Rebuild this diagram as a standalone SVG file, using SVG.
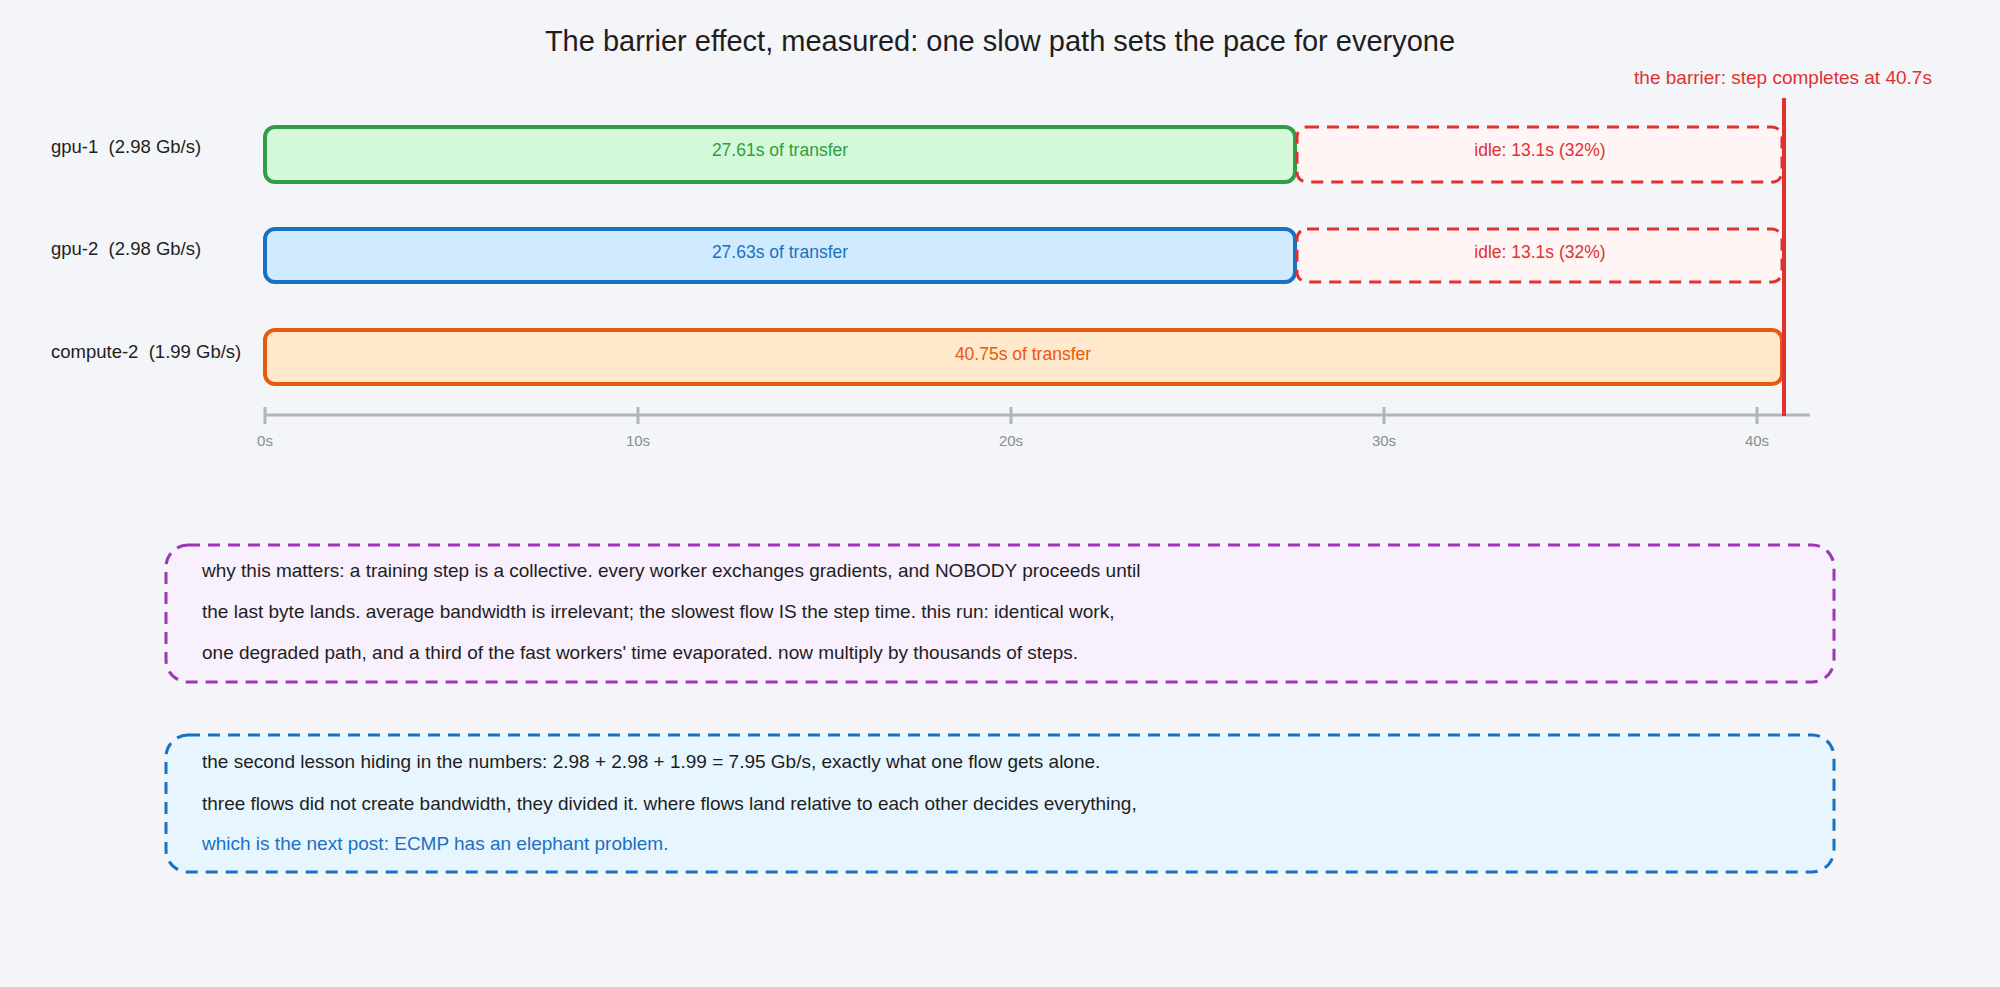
<svg xmlns="http://www.w3.org/2000/svg" width="2000" height="987" viewBox="0 0 2000 987">
<style>
text{font-family:"Liberation Sans",Arial,sans-serif}
.lbl{font-size:18.5px;fill:#1e1e1e}
.bt{font-size:17.5px;text-anchor:middle}
.idle{fill:#fff5f5;stroke:#e03131;stroke-width:3;stroke-dasharray:12 8}
.tick{stroke:#adb5bd;stroke-width:3}
.tl{font-size:15px;fill:#868e96;text-anchor:middle}
.note{font-size:19px}
</style>
<rect width="2000" height="987" fill="#f4f5f8"/>
<text x="1000" y="51" text-anchor="middle" font-size="29" fill="#1e1e1e">The barrier effect, measured: one slow path sets the pace for everyone</text>
<g id="labels">
<text class="lbl" x="51" y="153" xml:space="preserve">gpu-1  (2.98 Gb/s)</text>
<text class="lbl" x="51" y="255" xml:space="preserve">gpu-2  (2.98 Gb/s)</text>
<text class="lbl" x="51" y="358" xml:space="preserve">compute-2  (1.99 Gb/s)</text>
</g>
<g id="gpu1"><rect x="265" y="127" width="1030" height="55" rx="10" fill="#d3f9d8" stroke="#2f9e44" stroke-width="4"/><text class="bt" x="780" y="156" fill="#2f9e44">27.61s of transfer</text></g>
<g id="gpu1-idle"><rect class="idle" x="1297" y="127" width="485" height="55" rx="10"/><text class="bt" x="1540" y="156" fill="#e03131">idle: 13.1s (32%)</text></g>
<g id="gpu2"><rect x="265" y="229" width="1030" height="53" rx="10" fill="#d0ebff" stroke="#1971c2" stroke-width="4"/><text class="bt" x="780" y="258" fill="#1971c2">27.63s of transfer</text></g>
<g id="gpu2-idle"><rect class="idle" x="1297" y="229" width="485" height="53" rx="10"/><text class="bt" x="1540" y="258" fill="#e03131">idle: 13.1s (32%)</text></g>
<g id="compute2"><rect x="265" y="330" width="1517" height="54" rx="10" fill="#ffe8cc" stroke="#e8590c" stroke-width="4"/><text class="bt" x="1023" y="360" fill="#e8590c">40.75s of transfer</text></g>
<g id="axis">
<line class="tick" x1="265" y1="415" x2="1810" y2="415"/>
<line class="tick" x1="265" y1="407" x2="265" y2="424"/>
<line class="tick" x1="638" y1="407" x2="638" y2="424"/>
<line class="tick" x1="1011" y1="407" x2="1011" y2="424"/>
<line class="tick" x1="1384" y1="407" x2="1384" y2="424"/>
<line class="tick" x1="1757" y1="407" x2="1757" y2="424"/>
<text class="tl" x="265" y="446">0s</text><text class="tl" x="638" y="446">10s</text><text class="tl" x="1011" y="446">20s</text><text class="tl" x="1384" y="446">30s</text><text class="tl" x="1757" y="446">40s</text>
</g>
<g id="barrier"><line x1="1784" y1="98" x2="1784" y2="416" stroke="#e03131" stroke-width="4"/><text x="1783" y="84" text-anchor="middle" font-size="19" fill="#e03131">the barrier: step completes at 40.7s</text></g>
<g id="note1"><rect x="166" y="545" width="1668" height="137" rx="22" fill="#f8f0fc" stroke="#9c36b5" stroke-width="3" stroke-dasharray="12 8"/>
<text class="note" x="202" y="577" fill="#1e1e1e">why this matters: a training step is a collective. every worker exchanges gradients, and NOBODY proceeds until</text>
<text class="note" x="202" y="618" fill="#1e1e1e">the last byte lands. average bandwidth is irrelevant; the slowest flow IS the step time. this run: identical work,</text>
<text class="note" x="202" y="659" fill="#1e1e1e">one degraded path, and a third of the fast workers' time evaporated. now multiply by thousands of steps.</text></g>
<g id="note2"><rect x="166" y="735" width="1668" height="137" rx="22" fill="#e7f5ff" stroke="#1971c2" stroke-width="3" stroke-dasharray="12 8"/>
<text class="note" x="202" y="768" fill="#1e1e1e">the second lesson hiding in the numbers: 2.98 + 2.98 + 1.99 = 7.95 Gb/s, exactly what one flow gets alone.</text>
<text class="note" x="202" y="810" fill="#1e1e1e">three flows did not create bandwidth, they divided it. where flows land relative to each other decides everything,</text>
<text class="note" x="202" y="850" fill="#1971c2">which is the next post: ECMP has an elephant problem.</text></g>
</svg>
